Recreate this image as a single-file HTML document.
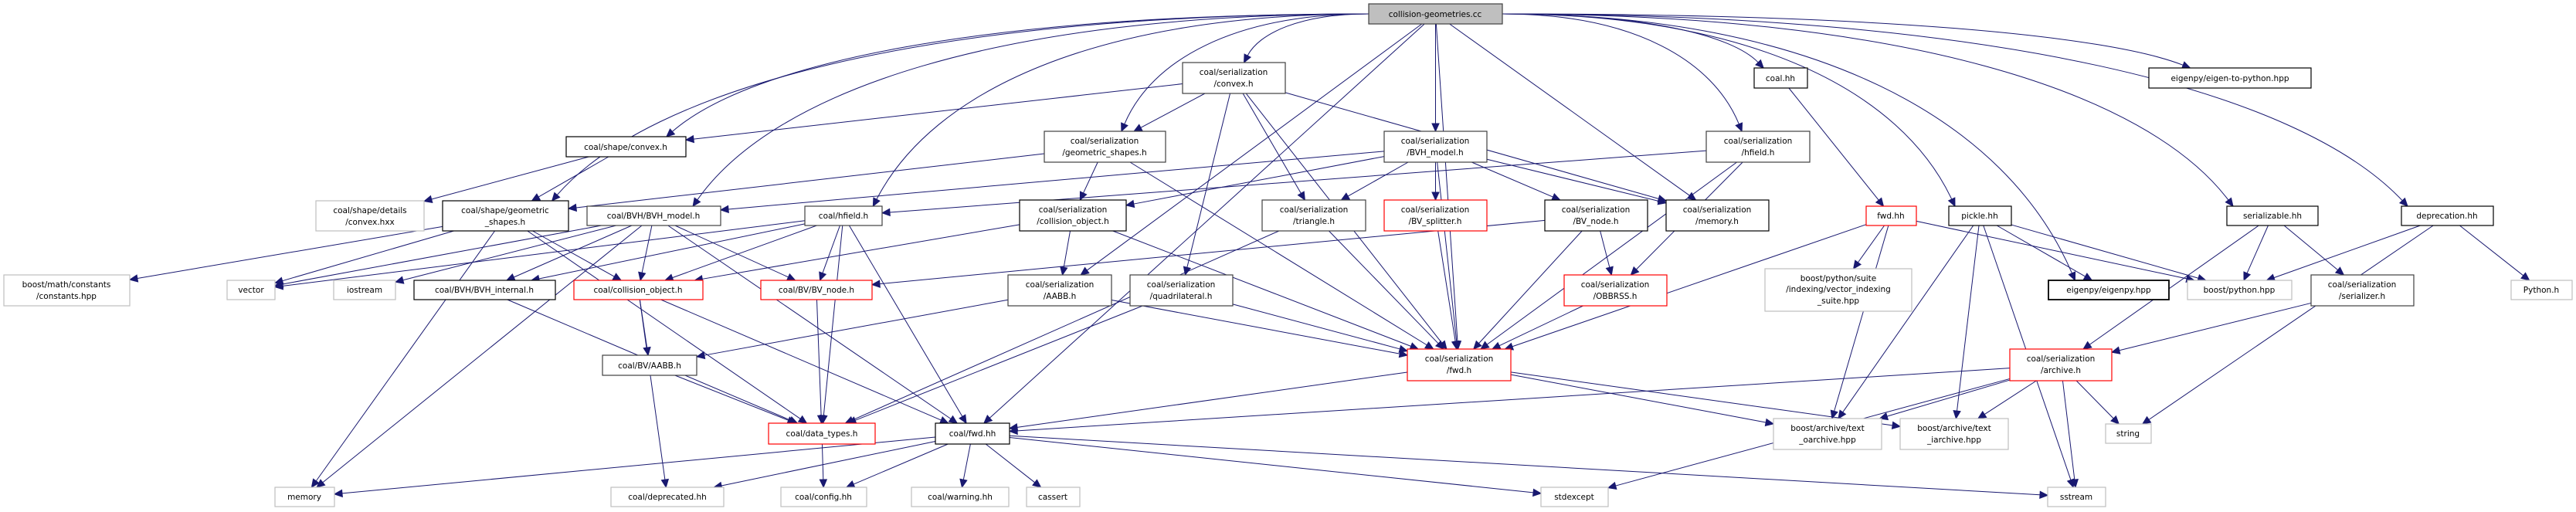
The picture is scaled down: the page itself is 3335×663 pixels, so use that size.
<!DOCTYPE html>
<html><head><meta charset="utf-8"><style>
html,body{margin:0;padding:0;background:#fff;overflow:hidden;}
svg{display:block;}
text{font-family:"DejaVu Sans","Liberation Sans",sans-serif;font-size:10.5px;fill:#000;text-anchor:middle;}
</style></head><body>
<svg id="g" width="3335" height="663" viewBox="0 0 3335 663" xmlns="http://www.w3.org/2000/svg">
<g id="edges" fill="none" stroke="#191970" stroke-width="1"></g>
<g id="heads" fill="#191970" stroke="#191970"></g>
<g id="nodes" stroke-width="1.2">
<rect x="1772" y="5" width="173" height="26" fill="#bfbfbf" stroke="#404040"/><text x="1858" y="22">collision-geometries.cc</text>
<rect x="733" y="177" width="155" height="26" fill="#fff" stroke="#000"/><text x="810" y="194">coal/shape/convex.h</text>
<rect x="409" y="260" width="140" height="39" fill="#fff" stroke="#bfbfbf"/><text x="479" y="276">coal/shape/details</text><text x="479" y="291">/convex.hxx</text>
<rect x="573" y="260" width="163" height="39" fill="#fff" stroke="#000"/><text x="654" y="276">coal/shape/geometric</text><text x="654" y="291">_shapes.h</text>
<rect x="760" y="267" width="173" height="25" fill="#fff" stroke="#404040"/><text x="846" y="283">coal/BVH/BVH_model.h</text>
<rect x="1042" y="267" width="100" height="25" fill="#fff" stroke="#404040"/><text x="1092" y="283">coal/hfield.h</text>
<rect x="1531" y="81" width="133" height="40" fill="#fff" stroke="#404040"/><text x="1597" y="97">coal/serialization</text><text x="1597" y="112">/convex.h</text>
<rect x="1352" y="170" width="157" height="40" fill="#fff" stroke="#404040"/><text x="1430" y="186">coal/serialization</text><text x="1430" y="201">/geometric_shapes.h</text>
<rect x="1320" y="259" width="138" height="40" fill="#fff" stroke="#000"/><text x="1389" y="275">coal/serialization</text><text x="1389" y="290">/collision_object.h</text>
<rect x="1792" y="170" width="133" height="40" fill="#fff" stroke="#404040"/><text x="1858" y="186">coal/serialization</text><text x="1858" y="201">/BVH_model.h</text>
<rect x="2209" y="170" width="134" height="40" fill="#fff" stroke="#404040"/><text x="2276" y="186">coal/serialization</text><text x="2276" y="201">/hfield.h</text>
<rect x="1634" y="259" width="134" height="40" fill="#fff" stroke="#404040"/><text x="1701" y="275">coal/serialization</text><text x="1701" y="290">/triangle.h</text>
<rect x="1792" y="259" width="133" height="40" fill="#fff" stroke="#ff0000"/><text x="1858" y="275">coal/serialization</text><text x="1858" y="290">/BV_splitter.h</text>
<rect x="2000" y="259" width="133" height="40" fill="#fff" stroke="#000"/><text x="2066" y="275">coal/serialization</text><text x="2066" y="290">/BV_node.h</text>
<rect x="2157" y="259" width="133" height="40" fill="#fff" stroke="#000"/><text x="2223" y="275">coal/serialization</text><text x="2223" y="290">/memory.h</text>
<rect x="2271" y="88" width="69" height="26" fill="#fff" stroke="#000"/><text x="2305" y="105">coal.hh</text>
<rect x="2416" y="267" width="65" height="25" fill="#fff" stroke="#ff0000"/><text x="2448" y="283">fwd.hh</text>
<rect x="2285" y="348" width="190" height="55" fill="#fff" stroke="#bfbfbf"/><text x="2380" y="364">boost/python/suite</text><text x="2380" y="378">/indexing/vector_indexing</text><text x="2380" y="393">_suite.hpp</text>
<rect x="2025" y="356" width="133" height="40" fill="#fff" stroke="#ff0000"/><text x="2091" y="372">coal/serialization</text><text x="2091" y="387">/OBBRSS.h</text>
<rect x="1822" y="452" width="134" height="41" fill="#fff" stroke="#ff0000"/><text x="1889" y="468">coal/serialization</text><text x="1889" y="483">/fwd.h</text>
<rect x="2296" y="542" width="140" height="40" fill="#fff" stroke="#bfbfbf"/><text x="2366" y="558">boost/archive/text</text><text x="2366" y="573">_oarchive.hpp</text>
<rect x="2460" y="542" width="140" height="40" fill="#fff" stroke="#bfbfbf"/><text x="2530" y="558">boost/archive/text</text><text x="2530" y="573">_iarchive.hpp</text>
<rect x="1995" y="631" width="87" height="25" fill="#fff" stroke="#bfbfbf"/><text x="2038" y="647">stdexcept</text>
<rect x="2782" y="88" width="210" height="26" fill="#fff" stroke="#000"/><text x="2887" y="105">eigenpy/eigen-to-python.hpp</text>
<rect x="2523" y="267" width="81" height="25" fill="#fff" stroke="#000"/><text x="2563" y="283">pickle.hh</text>
<rect x="2883" y="267" width="118" height="25" fill="#fff" stroke="#000"/><text x="2942" y="283">serializable.hh</text>
<rect x="3109" y="267" width="119" height="25" fill="#fff" stroke="#000"/><text x="3168" y="283">deprecation.hh</text>
<rect x="2652" y="363" width="156" height="25" fill="#fff" stroke="#000" stroke-width="1.8"/><text x="2730" y="379">eigenpy/eigenpy.hpp</text>
<rect x="2832" y="363" width="135" height="25" fill="#fff" stroke="#bfbfbf"/><text x="2899" y="379">boost/python.hpp</text>
<rect x="2992" y="356" width="133" height="40" fill="#fff" stroke="#404040"/><text x="3058" y="372">coal/serialization</text><text x="3058" y="387">/serializer.h</text>
<rect x="3251" y="363" width="79" height="25" fill="#fff" stroke="#bfbfbf"/><text x="3290" y="379">Python.h</text>
<rect x="2602" y="452" width="132" height="41" fill="#fff" stroke="#ff0000"/><text x="2668" y="468">coal/serialization</text><text x="2668" y="483">/archive.h</text>
<rect x="2726" y="549" width="59" height="25" fill="#fff" stroke="#bfbfbf"/><text x="2755" y="565">string</text>
<rect x="2651" y="631" width="75" height="25" fill="#fff" stroke="#bfbfbf"/><text x="2688" y="647">sstream</text>
<rect x="5" y="356" width="163" height="40" fill="#fff" stroke="#bfbfbf"/><text x="86" y="372">boost/math/constants</text><text x="86" y="387">/constants.hpp</text>
<rect x="294" y="363" width="62" height="25" fill="#fff" stroke="#bfbfbf"/><text x="325" y="379">vector</text>
<rect x="432" y="363" width="80" height="25" fill="#fff" stroke="#bfbfbf"/><text x="472" y="379">iostream</text>
<rect x="536" y="363" width="183" height="25" fill="#fff" stroke="#000"/><text x="627" y="379">coal/BVH/BVH_internal.h</text>
<rect x="743" y="363" width="167" height="25" fill="#fff" stroke="#ff0000"/><text x="826" y="379">coal/collision_object.h</text>
<rect x="985" y="363" width="144" height="25" fill="#fff" stroke="#ff0000"/><text x="1057" y="379">coal/BV/BV_node.h</text>
<rect x="1305" y="356" width="134" height="40" fill="#fff" stroke="#404040"/><text x="1372" y="372">coal/serialization</text><text x="1372" y="387">/AABB.h</text>
<rect x="1463" y="356" width="133" height="40" fill="#fff" stroke="#404040"/><text x="1529" y="372">coal/serialization</text><text x="1529" y="387">/quadrilateral.h</text>
<rect x="780" y="460" width="122" height="26" fill="#fff" stroke="#404040"/><text x="841" y="477">coal/BV/AABB.h</text>
<rect x="995" y="548" width="138" height="27" fill="#fff" stroke="#ff0000"/><text x="1064" y="565">coal/data_types.h</text>
<rect x="1211" y="548" width="96" height="27" fill="#fff" stroke="#000"/><text x="1259" y="565">coal/fwd.hh</text>
<rect x="356" y="631" width="77" height="25" fill="#fff" stroke="#bfbfbf"/><text x="394" y="647">memory</text>
<rect x="791" y="631" width="146" height="25" fill="#fff" stroke="#bfbfbf"/><text x="864" y="647">coal/deprecated.hh</text>
<rect x="1011" y="631" width="111" height="25" fill="#fff" stroke="#bfbfbf"/><text x="1066" y="647">coal/config.hh</text>
<rect x="1180" y="631" width="126" height="25" fill="#fff" stroke="#bfbfbf"/><text x="1243" y="647">coal/warning.hh</text>
<rect x="1329" y="631" width="69" height="25" fill="#fff" stroke="#bfbfbf"/><text x="1363" y="647">cassert</text>
</g>
</svg>
<script>
var N={cc:[1772,5,1945,31],sconv:[733,177,888,203],cvxhxx:[409,260,549,299],sgeo:[573,260,736,299],bvhm:[760,267,933,292],hfield:[1042,267,1142,292],sercvx:[1531,81,1664,121],sergeo:[1352,170,1509,210],sercol:[1320,259,1458,299],sbvh:[1792,170,1925,210],shf:[2209,170,2343,210],tri:[1634,259,1768,299],split:[1792,259,1925,299],sbvn:[2000,259,2133,299],smem:[2157,259,2290,299],coalhh:[2271,88,2340,114],pyfwd:[2416,267,2481,292],vis:[2285,348,2475,403],obb:[2025,356,2158,396],sfwd:[1822,452,1956,493],toa:[2296,542,2436,582],tia:[2460,542,2600,582],stdexc:[1995,631,2082,656],e2p:[2782,88,2992,114],pickle:[2523,267,2604,292],serble:[2883,267,3001,292],depr:[3109,267,3228,292],eigpy:[2652,363,2808,388],bpy:[2832,363,2967,388],serzr:[2992,356,3125,396],pyh:[3251,363,3330,388],arch:[2602,452,2734,493],string:[2726,549,2785,574],sstream:[2651,631,2726,656],consts:[5,356,168,396],vector:[294,363,356,388],iostream:[432,363,512,388],bvhi:[536,363,719,388],colobj:[743,363,910,388],bvn:[985,363,1129,388],saabb:[1305,356,1439,396],quad:[1463,356,1596,396],aabb:[780,460,902,486],dtypes:[995,548,1133,575],fwdhh:[1211,548,1307,575],memory:[356,631,433,656],depd:[791,631,937,656],config:[1011,631,1122,656],warn:[1180,631,1306,656],cassert:[1329,631,1398,656]};
var E="cc sconv,cc sgeo,cc bvhm,cc hfield,cc fwdhh,cc saabb,cc sergeo,cc sercvx,cc sbvh,cc smem,cc coalhh,cc shf,cc pickle,cc eigpy,cc serble,cc depr,cc e2p,cc sfwd,sconv cvxhxx,sconv sgeo,sercvx sconv,sercvx sergeo,sercvx tri,sercvx quad,sercvx sfwd,sercvx smem,sergeo sgeo,sergeo sercol,sergeo sfwd,sbvh bvhm,sbvh sercol,sbvh tri,sbvh split,sbvh sbvn,sbvh smem,sbvh sfwd,shf hfield,shf obb,shf sfwd,sgeo colobj,sgeo dtypes,sgeo vector,sgeo memory,sgeo consts,bvhm vector,bvhm memory,bvhm bvhi,bvhm colobj,bvhm bvn,bvhm fwdhh,bvhm iostream,hfield colobj,hfield bvn,hfield dtypes,hfield fwdhh,hfield vector,hfield bvhi,sercol colobj,sercol saabb,sercol sfwd,sbvn bvn,sbvn obb,sbvn sfwd,tri sfwd,tri dtypes,split sfwd,obb sfwd,colobj aabb,colobj fwdhh,colobj depd,bvn dtypes,bvhi dtypes,aabb dtypes,saabb aabb,saabb sfwd,quad sfwd,quad dtypes,sfwd fwdhh,sfwd toa,sfwd tia,fwdhh memory,fwdhh depd,fwdhh config,fwdhh warn,fwdhh cassert,fwdhh stdexc,fwdhh sstream,dtypes config,coalhh pyfwd,pyfwd vis,pyfwd bpy,pyfwd sfwd,pyfwd toa,pickle eigpy,pickle bpy,pickle toa,pickle tia,pickle sstream,serble bpy,serble serzr,serble arch,depr bpy,depr pyh,depr string,serzr arch,arch fwdhh,arch toa,arch tia,arch string,arch sstream,arch stdexc".split(",");
function c(b){return[(b[0]+b[2])/2,(b[1]+b[3])/2];}
function clip(b,p,q){var dx=q[0]-p[0],dy=q[1]-p[1],hw=(b[2]-b[0])/2,hh=(b[3]-b[1])/2,t=1e9;
if(dx)t=Math.min(t,hw/Math.abs(dx));if(dy)t=Math.min(t,hh/Math.abs(dy));return[p[0]+dx*t,p[1]+dy*t];}
var eg=document.getElementById('edges'),hg=document.getElementById('heads'),ns='http://www.w3.org/2000/svg';
E.forEach(function(s){var a=s.split(' '),A=N[a[0]],B=N[a[1]];var pa=c(A),pb=c(B);
var s0,e0,c1,c2,adx=Math.abs(pb[0]-pa[0]),ady=Math.abs(pb[1]-pa[1]);
if(a[0]=='cc'&&adx>2.2*ady){
 var sx=pb[0]<pa[0]?A[0]:A[2];s0=[sx,pa[1]];
 var tx=Math.max(B[0]+8,Math.min(B[2]-8,pb[0]+(pa[0]-pb[0])*0.05));e0=[tx,B[1]];
 var dy=e0[1]-s0[1];c1=[s0[0]+(e0[0]-s0[0])*0.55,s0[1]];c2=[e0[0]+(s0[0]-e0[0])*0.12,e0[1]-dy*0.6];
}else{
 s0=clip(A,pa,pb);e0=clip(B,pb,pa);c1=[s0[0]+(e0[0]-s0[0])/3,s0[1]+(e0[1]-s0[1])/3];c2=[s0[0]+(e0[0]-s0[0])*2/3,s0[1]+(e0[1]-s0[1])*2/3];
}
var dx=e0[0]-c2[0],dy2=e0[1]-c2[1],L=Math.hypot(dx,dy2),ux=dx/L,uy=dy2/L;
var bx=e0[0]-ux*10,by=e0[1]-uy*10;
var p=document.createElementNS(ns,'path');p.setAttribute('d','M'+s0[0]+','+s0[1]+'C'+c1[0]+','+c1[1]+' '+c2[0]+','+c2[1]+' '+bx+','+by);eg.appendChild(p);
var h=document.createElementNS(ns,'polygon');h.setAttribute('points',e0[0]+','+e0[1]+' '+(bx-uy*4.5)+','+(by+ux*4.5)+' '+(bx+uy*4.5)+','+(by-ux*4.5));hg.appendChild(h);});
</script>
</body></html>
